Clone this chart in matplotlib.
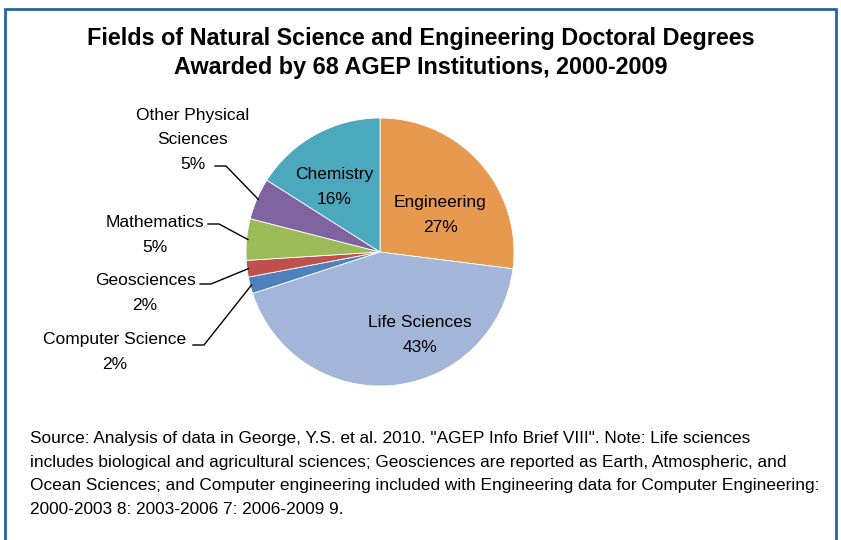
import numpy as np
import matplotlib.pyplot as plt
from matplotlib.patches import Rectangle

plt.rcParams['font.family'] = ['Liberation Sans', 'DejaVu Sans']

fields = ['Engineering', 'Life Sciences', 'Computer Science', 'Geosciences',
          'Mathematics', 'Other Physical\nSciences', 'Chemistry']
shares = [27, 43, 2, 2, 5, 5, 16]
colors = ['#E6994F', '#A3B6D9', '#4F81BD', '#C0504D', '#9BBB59', '#8064A2', '#4BA8BD']

title = ('Fields of Natural Science and Engineering Doctoral Degrees\n'
         'Awarded by 68 AGEP Institutions, 2000-2009')
note = ('Source: Analysis of data in George, Y.S. et al. 2010. "AGEP Info Brief VIII". Note: Life sciences\n'
        'includes biological and agricultural sciences; Geosciences are reported as Earth, Atmospheric, and\n'
        'Ocean Sciences; and Computer engineering included with Engineering data for Computer Engineering:\n'
        '2000-2003 8: 2003-2006 7: 2006-2009 9.')

W, H = 841, 540
fig = plt.figure(figsize=(W / 100, H / 100), dpi=100)

# blue frame around the chart
fig.add_artist(Rectangle((5 / W, -0.05), 831 / W, 1.05 - 9 / H, transform=fig.transFigure,
                         fill=False, edgecolor='#2563A8', linewidth=2))

cx, cy, r = 380, 252, 134
ax = fig.add_axes([(cx - r) / W, (H - cy - r) / H, 2 * r / W, 2 * r / H])
wedges, _ = ax.pie(shares, colors=colors, startangle=90, counterclock=False,
                   radius=1, wedgeprops=dict(linewidth=0.6, edgecolor='white'))
ax.set_xlim(-1, 1)
ax.set_ylim(-1, 1)
ax.axis('off')

def px(x, y):
    return (x - cx) / r, (cy - y) / r

# labels inside the big slices
inside = {0: (440, 215), 1: (420, 335), 6: (334, 187)}
for i, (x, y) in inside.items():
    ax.text(*px(x, y), f'{fields[i]}\n{shares[i]}%', ha='center', va='center',
            fontsize=12.5, linespacing=1.8)

# outside labels with leader lines
outside = {5: (193, 140, 215, 166), 4: (155, 235, 208, 224),
           3: (145, 293, 200, 284), 2: (115, 352, 193, 345)}
for i, (x, y, lx, ly) in outside.items():
    ax.text(*px(x, y), f'{fields[i]}\n{shares[i]}%', ha='center', va='center',
            fontsize=12.5, linespacing=1.8)
    w = wedges[i]
    mid = np.deg2rad((w.theta1 + w.theta2) / 2)
    ex, ey = 0.99 * np.cos(mid), 0.99 * np.sin(mid)
    x0, y0 = px(lx, ly)
    x1, y1 = px(lx + 11, ly)
    ax.plot([x0, x1, ex], [y0, y1, ey], color='black', lw=1, clip_on=False)

fig.text(0.5, 1 - 53 / H, title, ha='center', va='center', fontsize=16.8,
         fontweight='bold', linespacing=1.35)
fig.text(30 / W, 1 - 474 / H, note, ha='left', va='center', fontsize=12.4,
         linespacing=1.7)

fig.savefig('out.png', dpi=100)
